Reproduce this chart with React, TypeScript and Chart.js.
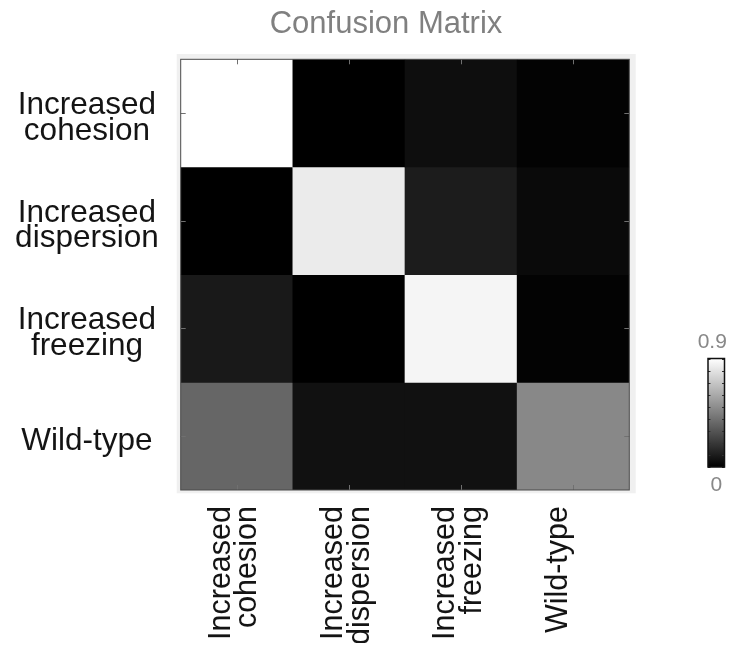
import React, { useEffect, useRef } from "react";
import { Chart, registerables } from "chart.js";

Chart.register(...registerables);

// Class names (predicted along x, true along y)
const classLabels: (string | string[])[] = [
  ["Increased", "cohesion"],
  ["Increased", "dispersion"],
  ["Increased", "freezing"],
  "Wild-type",
];

// Confusion matrix rows (true class), columns = predicted class
const rowCohesion = [0.92, 0.0, 0.05, 0.01];
const rowDispersion = [0.0, 0.83, 0.1, 0.035];
const rowFreezing = [0.09, 0.0, 0.865, 0.01];
const rowWildType = [0.36, 0.06, 0.06, 0.48];
const matrixRows = [rowCohesion, rowDispersion, rowFreezing, rowWildType];

// Colour range of the gray colormap
const colorMin = 0;
const colorMax = 0.9;
const colorbarTicks = [0, 0.1, 0.2, 0.3, 0.4, 0.5, 0.6, 0.7, 0.8, 0.9];

const titleText = "Confusion Matrix";
const FONT = "'Liberation Sans', Arial, Helvetica, sans-serif";

const CANVAS_W = 720;
const CANVAS_H = 643;

function grayFor(v: number): string {
  const t = Math.max(0, Math.min(1, (v - colorMin) / (colorMax - colorMin)));
  const g = Math.round(t * 255);
  return `rgb(${g},${g},${g})`;
}

const decorPlugin = {
  id: "matrixDecor",
  beforeDraw(chart: any) {
    const { ctx, chartArea: a } = chart;
    ctx.save();
    ctx.fillStyle = "#f0f0f0";
    ctx.fillRect(a.left - 4, a.top - 5.3, a.right - a.left + 10.4, a.bottom - a.top + 8.6);
    ctx.restore();
  },
  afterDatasetsDraw(chart: any) {
    const { ctx, chartArea: a, scales } = chart;
    const xs = scales.x;
    const ys = scales.y;
    ctx.save();
    // inward tick marks on all four sides
    ctx.strokeStyle = "#707070";
    ctx.lineWidth = 1;
    const tl = 5;
    ctx.beginPath();
    xs.ticks.forEach((_: any, i: number) => {
      const px = Math.round(xs.getPixelForTick(i)) + 0.5;
      ctx.moveTo(px, a.bottom);
      ctx.lineTo(px, a.bottom - tl);
      ctx.moveTo(px, a.top);
      ctx.lineTo(px, a.top + tl);
    });
    ys.ticks.forEach((t: any) => {
      const py = Math.round(ys.getPixelForValue(t.value)) + 0.5;
      ctx.moveTo(a.left, py);
      ctx.lineTo(a.left + tl, py);
      ctx.moveTo(a.right, py);
      ctx.lineTo(a.right - tl, py);
    });
    ctx.stroke();
    // axes box
    ctx.strokeStyle = "#4a4a4a";
    ctx.strokeRect(a.left, a.top, a.right - a.left, a.bottom - a.top);
    ctx.restore();
  },
  afterDraw(chart: any) {
    const { ctx, chartArea: a } = chart;
    ctx.save();
    // title
    ctx.fillStyle = "#808080";
    ctx.font = `31px ${FONT}`;
    ctx.textAlign = "center";
    ctx.textBaseline = "alphabetic";
    ctx.fillText(titleText, (a.left + a.right) / 2 - 19, 25.3);

    // colorbar
    const cbL = a.right + 78.7;
    const cbW = 16.5;
    const cbB = a.bottom - 23;
    const cbH = 108.5;
    const cbT = cbB - cbH;
    const grad = ctx.createLinearGradient(0, cbB, 0, cbT);
    grad.addColorStop(0, grayFor(colorMin));
    grad.addColorStop(1, grayFor(colorMax));
    ctx.fillStyle = grad;
    ctx.fillRect(cbL, cbT, cbW, cbH);
    ctx.strokeStyle = "#333333";
    ctx.lineWidth = 1;
    ctx.beginPath();
    colorbarTicks.forEach((v) => {
      const py = Math.round(cbB - ((v - colorMin) / (colorMax - colorMin)) * cbH) + 0.5;
      ctx.moveTo(cbL, py);
      ctx.lineTo(cbL + 2.5, py);
      ctx.moveTo(cbL + cbW, py);
      ctx.lineTo(cbL + cbW - 2.5, py);
    });
    ctx.stroke();
    ctx.strokeStyle = "#111111";
    ctx.lineWidth = 1.5;
    ctx.strokeRect(cbL, cbT, cbW, cbH);

    ctx.fillStyle = "#888888";
    ctx.font = `21px ${FONT}`;
    ctx.textAlign = "center";
    ctx.textBaseline = "middle";
    ctx.fillText(String(colorMax), cbL + cbW / 2 - 4, cbT - 16);
    ctx.fillText(String(colorMin), cbL + cbW / 2, cbB + 18);
    ctx.restore();
  },
};

export default function App() {
  const canvasRef = useRef<HTMLCanvasElement | null>(null);

  useEffect(() => {
    if (!canvasRef.current) return;
    const datasets = matrixRows.map((row, r) => ({
      label: Array.isArray(classLabels[r]) ? (classLabels[r] as string[]).join(" ") : (classLabels[r] as string),
      data: row.map(() => [r, r + 1] as [number, number]),
      backgroundColor: row.map((v) => grayFor(v)),
      borderWidth: 0,
      grouped: false,
      barPercentage: 1,
      categoryPercentage: 1,
    }));

    const chart = new Chart(canvasRef.current, {
      type: "bar",
      data: { labels: classLabels as any, datasets: datasets as any },
      options: {
        animation: false,
        responsive: false,
        layout: { padding: { top: 51.3, right: 98.7, bottom: 0, left: 0 } },
        plugins: {
          legend: { display: false },
          title: { display: false },
          tooltip: { enabled: false },
        },
        scales: {
          x: {
            type: "category",
            grid: { display: false, drawTicks: false },
            border: { display: false },
            ticks: {
              autoSkip: false,
              minRotation: 90,
              maxRotation: 90,
              padding: 16,
              labelOffset: -15,
              color: "#141414",
              font: { family: FONT, size: 30.5, lineHeight: 0.86 },
            },
            afterFit(scale: any) {
              scale.height = 161;
            },
          },
          y: {
            type: "linear",
            min: 0,
            max: 4,
            reverse: true,
            grid: { display: false, drawTicks: false },
            border: { display: false },
            afterBuildTicks(scale: any) {
              scale.ticks = [0.5, 1.5, 2.5, 3.5].map((v) => ({ value: v }));
            },
            ticks: {
              autoSkip: false,
              crossAlign: "center",
              padding: 22,
              labelOffset: 5,
              color: "#141414",
              font: { family: FONT, size: 31.5, lineHeight: 0.82 },
              callback: (value: any) => classLabels[Math.floor(Number(value))] as any,
            },
            afterFit(scale: any) {
              scale.width = 172.7;
            },
          },
        },
      },
      plugins: [decorPlugin],
    });
    return () => chart.destroy();
  }, []);

  return (
    <div style={{ width: CANVAS_W, height: CANVAS_H, marginBottom: -8 }}>
      <canvas ref={canvasRef} width={CANVAS_W} height={CANVAS_H} style={{ display: "block" }} />
    </div>
  );
}
